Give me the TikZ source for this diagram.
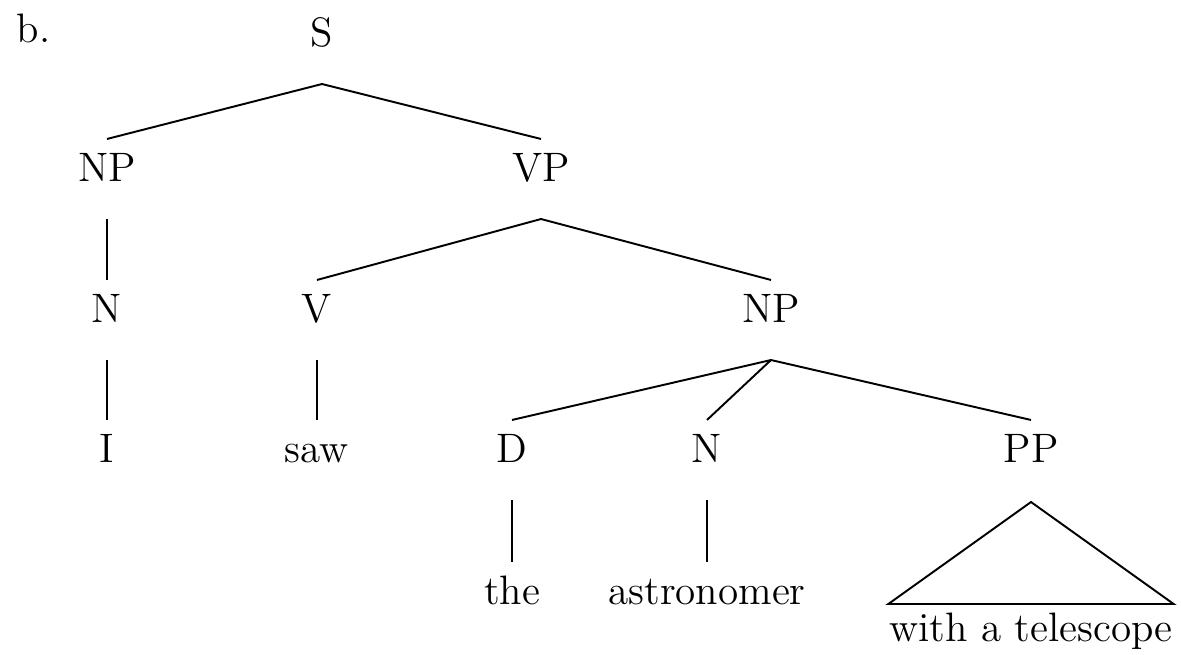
\documentclass[tikz,border=0pt]{standalone}
\begin{document}
\begin{tikzpicture}[x=0.01cm, y=-0.01cm, line width=0.55pt,
    font=\fontsize{11.7}{14}\selectfont,
    cat/.style={anchor=base, inner sep=0pt}]

\useasboundingbox (0,0) rectangle (1181,655);

% ===== Labels =====
\node[cat, anchor=base west] (lab) at (16,43) {b.};
\node[cat] (S) at (322,47) {S};

\node[cat] (NP) at (107,182) {NP};
\node[cat] (VP) at (541,182) {VP};

\node[cat] (N) at (107,323) {N};
\node[cat] (V) at (317,323) {V};
\node[cat] (NPb) at (771,323) {NP};

\node[cat] (I) at (107,463) {I};
\node[cat] (saw) at (317,463) {saw};
\node[cat] (D) at (512,463) {D};
\node[cat] (Nb) at (707,463) {N};
\node[cat] (PP) at (1031,463) {PP};

\node[cat] (the) at (512,605) {the};
\node[cat] (astr) at (707,605) {astronomer};
\node[cat] (tel) at (1031,642) {with a telescope};

% ===== Branches =====
\foreach \a/\b in {S/NP, S/VP, NP/N, N/I, VP/V, VP/NPb, V/saw,
                   NPb/D, NPb/Nb, NPb/PP, D/the, Nb/astr} {
    \draw ([yshift=-3.7mm]\a.base) -- ([yshift=4.3mm]\b.base);
}

% ===== Triangle over the PP =====
\draw ([yshift=-3.9mm]PP.base) -- ([yshift=3.8mm]tel.base east)
    -- ([yshift=3.8mm]tel.base west) -- cycle;

\end{tikzpicture}
\end{document}
